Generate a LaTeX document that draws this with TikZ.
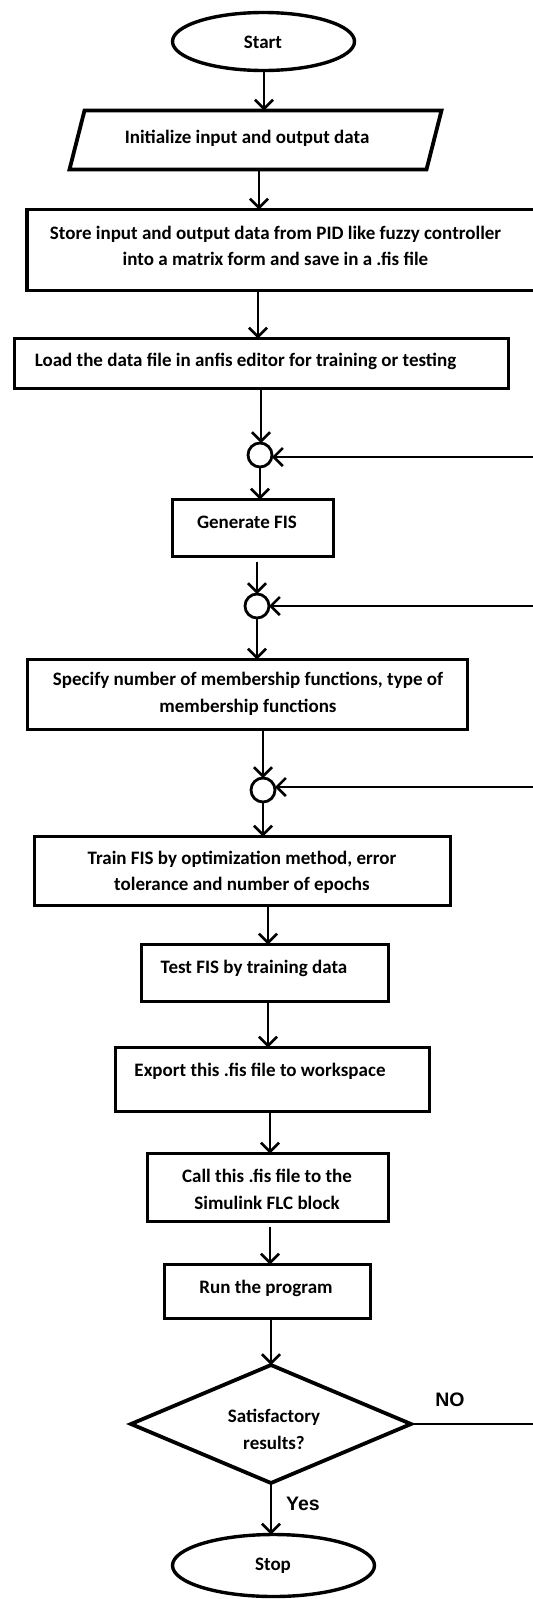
\documentclass[tikz,border=0pt]{standalone}
\usepackage{fontspec}
\setmainfont{Carlito}
\newfontfamily\labfont{Liberation Sans}
\usetikzlibrary{shapes.geometric,arrows.meta}
\begin{document}
\begin{tikzpicture}[x=1pt,y=-1pt,
  box/.style={draw, line width=3.8pt, rectangle, inner sep=0pt, outer sep=0pt},
  term/.style={draw, line width=3.4pt, ellipse, inner sep=0pt, outer sep=0pt},
  junc/.style={draw, line width=2.8pt, circle, minimum size=24pt, inner sep=0pt, outer sep=0pt},
  iobound/.style={rectangle, inner sep=0pt, outer sep=0pt},
  io/.style={draw, line width=3.8pt, line join=miter},
  decide/.style={draw, line width=3.8pt, diamond, inner sep=0pt, outer sep=0pt},
  txt/.style={font=\bfseries\fontsize{19}{26.5}\selectfont, align=center, inner sep=0pt},
  lab/.style={font=\labfont\bfseries\fontsize{19.5}{22}\selectfont, inner sep=0pt},
  arr/.style={line width=2.8pt, -{Straight Barb[length=9pt,width=18pt,line width=2.6pt]}},
  flow/.style={line width=2.8pt}
]
\path[use as bounding box, clip] (0,0) rectangle (533,1599);
\fill[white] (0,0) rectangle (533,1599);

% nodes
\node[term, minimum width=182pt, minimum height=58pt] (start) at (263.5,41.5) {};
\node[txt] at (263,42) {Start};

\node[iobound, minimum width=372pt, minimum height=59pt] (init) at (255.5,140) {};
\draw[io] ([xshift=15pt]init.north west) -- (init.north east) -- ([xshift=-15pt]init.south east) -- (init.south west) -- cycle;
\node[txt] at (247,138) {Initialize input and output data};

\node[box, minimum width=514pt, minimum height=81pt] (store) at (284,250) {};
\node[txt] at (275.5,246) {Store input and output data from PID like fuzzy controller\\into a matrix form and save in a .fis file};

\node[box, minimum width=494pt, minimum height=50pt] (load) at (261.5,363.5) {};
\node[txt] at (245.5,361) {Load the data file in anfis editor for training or testing};

\node[junc] (c1) at (260,455) {};

\node[box, minimum width=161pt, minimum height=57pt] (gen) at (253,528) {};
\node[txt] at (247,522) {Generate FIS};

\node[junc] (c2) at (257,606) {};

\node[box, minimum width=440pt, minimum height=70pt] (spec) at (247.5,694.5) {};
\node[txt] at (248,694) {Specify number of membership functions, type of\\membership functions};

\node[junc] (c3) at (263,790) {};

\node[box, minimum width=416pt, minimum height=69pt] (train) at (242.5,871) {};
\node[txt] at (242,872.5) {Train FIS by optimization method, error\\tolerance and number of epochs};

\node[box, minimum width=247pt, minimum height=57pt] (test) at (265,973) {};
\node[txt] at (254,968) {Test FIS by training data};

\node[box, minimum width=314pt, minimum height=64pt] (export) at (272.5,1079.5) {};
\node[txt] at (260,1071) {Export this .fis file to workspace};

\node[box, minimum width=241pt, minimum height=68pt] (call) at (268,1187.5) {};
\node[txt] at (267,1189.5) {Call this .fis file to the\\Simulink FLC block};

\node[box, minimum width=206pt, minimum height=54pt] (run) at (267.5,1291.5) {};
\node[txt] at (266,1288) {Run the program};

\node[decide, minimum width=280pt, minimum height=118pt] (dia) at (271,1424) {};
\node[txt] at (274,1429.5) {Satisfactory\\results?};

\node[term, minimum width=202pt, minimum height=62pt] (stop) at (273.5,1565.5) {};
\node[txt] at (273,1566) {Stop};

\node[lab] (no) at (450,1400) {NO};
\node[lab] (yes) at (303,1504) {Yes};

% free ends of feedback lines at the right edge
\coordinate (r1) at (540,457);
\coordinate (r2) at (540,606);
\coordinate (r3) at (540,787);
\coordinate (r4) at (540,1424);

% connectors (vertical)
\draw[arr] ([xshift=0.5pt]start.south) -- ([xshift=0.5pt]start.south |- init.north);
\draw[arr] ([xshift=3.5pt]init.south) -- ([xshift=3.5pt]init.south |- store.north);
\draw[arr] ([xshift=-26pt]store.south) -- ([xshift=-26pt]store.south |- load.north);
\draw[arr] ([xshift=-0.5pt]load.south) -- ([xshift=-0.5pt]load.south |- c1.north);
\draw[arr] (c1.south) -- (c1.south |- gen.north);
\draw[arr] ([xshift=4pt,yshift=-5pt]gen.south) -- ([xshift=4pt]gen.south |- c2.north);
\draw[arr] (c2.south) -- (c2.south |- spec.north);
\draw[arr] ([xshift=15.5pt]spec.south) -- ([xshift=15.5pt]spec.south |- c3.north);
\draw[arr] (c3.south) -- (c3.south |- train.north);
\draw[arr] ([xshift=25.5pt]train.south) -- ([xshift=25.5pt]train.south |- test.north);
\draw[arr] ([xshift=3pt]test.south) -- ([xshift=3pt]test.south |- export.north);
\draw[arr] ([xshift=-2.5pt]export.south) -- ([xshift=-2.5pt]export.south |- call.north);
\draw[arr] ([xshift=2pt,yshift=-5pt]call.south) -- ([xshift=2pt]call.south |- run.north);
\draw[arr] (dia.north |- run.south) -- (dia.north);
\draw[arr] (dia.south) -- (dia.south |- stop.north);

\draw[arr] (r1) -- (c1.east |- r1);
\draw[arr] (r2) -- (c2.east);
\draw[arr] (r3) -- (c3.east |- r3);
\draw[flow] (dia.east) -- (r4);
\end{tikzpicture}
\end{document}
